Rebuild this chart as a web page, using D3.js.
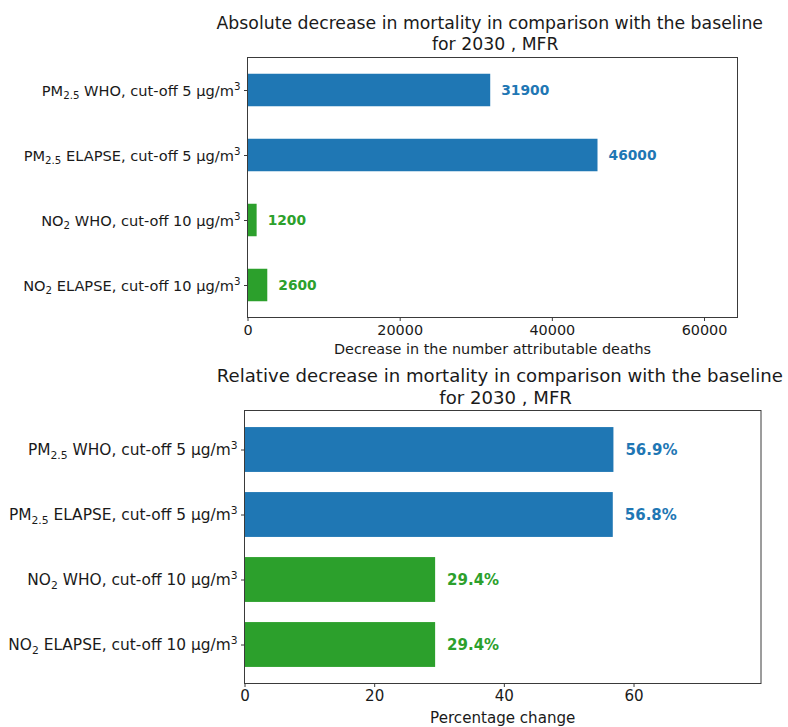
<!DOCTYPE html>
<html>
<head>
<meta charset="utf-8">
<script src="https://cdn.jsdelivr.net/npm/d3@7"></script>
<style>
  html, body { margin: 0; padding: 0; background: #fff; }
  svg { display: block; font-family: "DejaVu Sans", sans-serif; }
  .title { white-space: pre; }
</style>
</head>
<body>
<svg id="chart" width="788" height="727"></svg>
<script>
// Scenario labels: _{..} is a subscript, ^{..} a superscript
const categories = [
  "PM_{2.5} WHO, cut-off 5 µg/m^{3}",
  "PM_{2.5} ELAPSE, cut-off 5 µg/m^{3}",
  "NO_{2} WHO, cut-off 10 µg/m^{3}",
  "NO_{2} ELAPSE, cut-off 10 µg/m^{3}"
];
const pollutant = ["PM2.5", "PM2.5", "NO2", "NO2"];

// Decrease in attributable deaths, 2030, MFR
const absoluteDecrease = [31900, 46000, 1200, 2600];
// Relative decrease, percent
const relativeDecrease = [56.9, 56.8, 29.4, 29.4];

const absoluteTicks = [0, 20000, 40000, 60000];
const relativeTicks = [0, 20, 40, 60];

const titleLines = {
  absolute: ["Absolute decrease in mortality in comparison with the baseline ", " for 2030 , MFR"],
  relative: ["Relative decrease in mortality in comparison with the baseline ", " for 2030 , MFR"]
};
const xLabels = {
  absolute: "Decrease in the number attributable deaths",
  relative: "Percentage change"
};

const colorOf = { "PM2.5": "#1f77b4", "NO2": "#2ca02c" };
const textColor = "#1a1a1a";
const FONT = "DejaVu Sans, sans-serif";

const svg = d3.select("#chart");

// Writes a label string into a <text>, turning _{} / ^{} into shifted tspans
function richText(sel, str, size) {
  const parts = str.split(/(_\{[^}]*\}|\^\{[^}]*\})/).filter(s => s.length);
  let offset = 0;
  parts.forEach(p => {
    let target = 0, txt = p, fsz = size;
    if (p.startsWith("_{")) { target = size * 0.22; txt = p.slice(2, -1); fsz = size * 0.7; }
    else if (p.startsWith("^{")) { target = -size * 0.4; txt = p.slice(2, -1); fsz = size * 0.7; }
    sel.append("tspan").attr("font-size", fsz).attr("dy", target - offset).text(txt);
    offset = target;
  });
}

function drawPanel(opts) {
  const { box, values, ticks, titles, xLabel, barFrac, yPad, fs, valueFormat } = opts;
  const w = box.right - box.left, h = box.bottom - box.top;
  const g = svg.append("g").attr("transform", `translate(${box.left},${box.top})`);

  const x = d3.scaleLinear().domain([0, d3.max(values) * 1.4]).range([0, w]);
  const y = d3.scalePoint().domain(d3.range(categories.length)).range([0, h]).padding(yPad);
  const barH = y.step() * barFrac;

  // bars
  g.selectAll("rect.bar").data(values).join("rect")
    .attr("class", "bar")
    .attr("x", x(0))
    .attr("y", (d, i) => y(i) - barH / 2)
    .attr("width", d => x(d) - x(0))
    .attr("height", barH)
    .attr("fill", (d, i) => colorOf[pollutant[i]]);

  // value labels
  g.selectAll("text.val").data(values).join("text")
    .attr("class", "val")
    .attr("x", d => x(d) + fs.value * 0.8)
    .attr("y", (d, i) => y(i))
    .attr("dy", "0.35em")
    .attr("font-size", fs.value)
    .attr("font-weight", "bold")
    .attr("fill", (d, i) => colorOf[pollutant[i]])
    .text(valueFormat);

  // frame
  g.append("rect").attr("width", w).attr("height", h)
    .attr("fill", "none").attr("stroke", "#3a3a3a").attr("stroke-width", 1);

  // x axis
  const xAxis = g.append("g").attr("transform", `translate(0,${h})`)
    .call(d3.axisBottom(x).tickValues(ticks).tickFormat(d3.format("d")).tickSize(3.5).tickPadding(3.5))
    .attr("font-family", FONT).attr("font-size", fs.tick);
  xAxis.select(".domain").remove();
  xAxis.selectAll("line").attr("stroke", "#3a3a3a");
  xAxis.selectAll("text").attr("font-size", fs.tick).attr("fill", textColor);

  // y axis
  const yAxis = g.append("g")
    .call(d3.axisLeft(y).tickFormat("").tickSize(3.5))
    .attr("font-family", FONT).attr("font-size", fs.tick);
  yAxis.select(".domain").remove();
  yAxis.selectAll("line").attr("stroke", "#3a3a3a");
  yAxis.selectAll(".tick text").remove();
  yAxis.selectAll(".tick").each(function(d) {
    const t = d3.select(this).append("text")
      .attr("x", -7).attr("y", fs.ylab * 0.35)
      .attr("text-anchor", "end")
      .attr("font-size", fs.ylab)
      .attr("fill", textColor);
    richText(t, categories[d], fs.ylab);
  });

  // x label
  g.append("text").attr("x", w / 2).attr("y", h + fs.xlabelOffset)
    .attr("text-anchor", "middle").attr("font-size", fs.xlabel).attr("fill", textColor)
    .text(xLabel);

  // title
  titles.forEach((line, i) => {
    g.append("text").attr("class", "title")
      .attr("x", w / 2).attr("y", fs.titleY[i])
      .attr("text-anchor", "middle").attr("font-size", fs.title).attr("fill", textColor)
      .text(line);
  });
}

drawPanel({
  box: { left: 247.5, top: 57.5, right: 737.5, bottom: 317.5 },
  values: absoluteDecrease,
  ticks: absoluteTicks,
  titles: titleLines.absolute,
  xLabel: xLabels.absolute,
  barFrac: 0.5,
  yPad: 0.5,
  fs: { tick: 14.4, ylab: 14.6, xlabel: 14.4, value: 13.8, title: 17.3, xlabelOffset: 36.5, titleY: [-28.5, -8] },
  valueFormat: d => d3.format("d")(d)
});

drawPanel({
  box: { left: 244.5, top: 410.5, right: 761, bottom: 683.5 },
  values: relativeDecrease,
  ticks: relativeTicks,
  titles: titleLines.relative,
  xLabel: xLabels.relative,
  barFrac: 0.69,
  yPad: 0.6,
  fs: { tick: 15.1, ylab: 15.4, xlabel: 15.1, value: 15, title: 18.1, xlabelOffset: 39, titleY: [-29, -6.5] },
  valueFormat: d => d3.format(".1f")(d) + "%"
});
</script>
</body>
</html>
